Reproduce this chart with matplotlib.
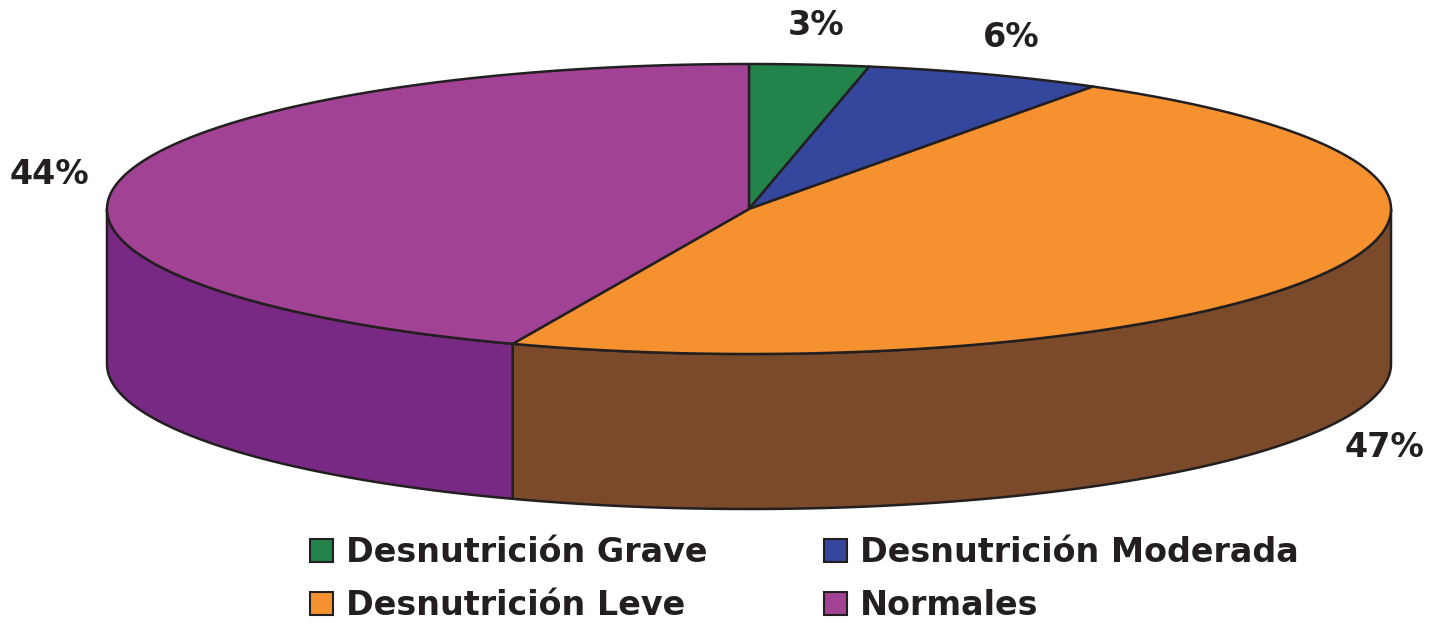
import numpy as np
import matplotlib.pyplot as plt
from matplotlib.patches import Polygon, Patch

# data
labels = ["Desnutrición Grave", "Desnutrición Moderada", "Desnutrición Leve", "Normales"]
values = [3, 6, 47, 44]
pct_labels = ["3%", "6%", "47%", "44%"]
top_colors = ["#22844A", "#35479C", "#F5922F", "#A14295"]
side_colors = ["#17603A", "#263676", "#7A4A2A", "#782983"]

EDGE = "#231F20"
W, H = 1429, 623

# 3d pie geometry (pixel units)
cx, cy = 749, 209
rx, ry = 642, 145
depth = 155


def pt(t):
    t = np.radians(t)
    return cx + rx * np.sin(t), cy - ry * np.cos(t)


fig = plt.figure(figsize=(W / 100, H / 100), dpi=100)
ax = fig.add_axes([0, 0, 1, 1])
ax.set_xlim(0, W)
ax.set_ylim(H, 0)
ax.axis("off")

total = sum(values)
bounds = np.concatenate([[0], np.cumsum(values) / total * 360])

# side walls (front half only, t in [90, 270])
for i in range(len(values)):
    a0, a1 = max(bounds[i], 90), min(bounds[i + 1], 270)
    if a1 <= a0:
        continue
    t = np.linspace(a0, a1, 200)
    x, y = pt(t)
    xs = np.concatenate([x, x[::-1]])
    ys = np.concatenate([y, y[::-1] + depth])
    ax.add_patch(Polygon(np.column_stack([xs, ys]), closed=True,
                         facecolor=side_colors[i], edgecolor=EDGE, lw=1.8,
                         joinstyle="round"))

# top wedges
for i in range(len(values)):
    t = np.linspace(bounds[i], bounds[i + 1], 300)
    x, y = pt(t)
    xs = np.concatenate([[cx], x])
    ys = np.concatenate([[cy], y])
    ax.add_patch(Polygon(np.column_stack([xs, ys]), closed=True,
                         facecolor=top_colors[i], edgecolor=EDGE, lw=1.8,
                         joinstyle="round"))

# percentage labels
for i in range(len(values)):
    m = np.radians((bounds[i] + bounds[i + 1]) / 2)
    lx = cx + 1.11 * rx * np.sin(m)
    ly = cy - 1.27 * ry * np.cos(m)
    if np.cos(m) < 0:
        ly += depth
    ax.text(lx, ly, pct_labels[i], ha="center", va="center",
            fontsize=24, fontweight="bold", color=EDGE)

# legend: row-wise order (matplotlib fills columns first)
order = [0, 2, 1, 3]
handles = [Patch(facecolor=top_colors[i], edgecolor=EDGE, lw=1.5) for i in order]
fig.legend(handles, [labels[i] for i in order], ncol=2, loc="upper left",
           bbox_to_anchor=(0.217, 0.14), bbox_transform=fig.transFigure,
           frameon=False, borderpad=0, borderaxespad=0,
           handlelength=0.68, handleheight=0.68, handletextpad=0.4,
           columnspacing=3.5, labelspacing=0.62,
           prop={"size": 24, "weight": "bold"}, labelcolor=EDGE)

fig.savefig("out.png", dpi=100)
